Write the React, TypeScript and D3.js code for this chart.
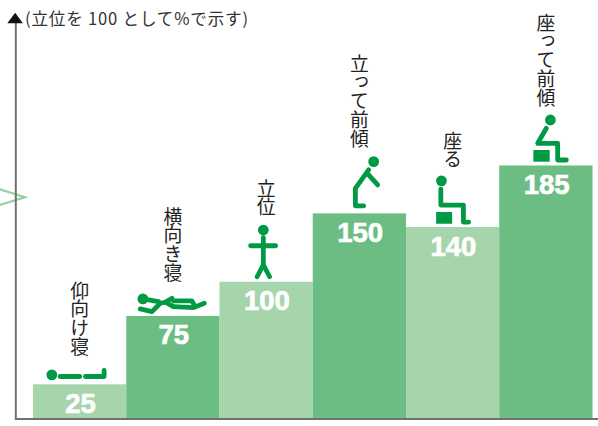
import React from "react";
import * as d3 from "d3";

const categories = ["仰向け寝", "横向き寝", "立位", "立って前傾", "座る", "座って前傾"];
const values = [25, 75, 100, 150, 140, 185];
const barColors = ["#a6d4ab", "#6bbd84", "#a6d4ab", "#6bbd84", "#a6d4ab", "#6bbd84"];
const note = "(立位を 100 として%で示す)";

const W = 598, H = 426;
const GREEN = "#009a44";
const FONT = "'Noto Sans CJK JP', sans-serif";

const x = d3.scaleBand<string>().domain(categories).range([33, 592.5]).padding(0);
const y = d3.scaleLinear().domain([0, 185]).range([418.5, 165.5]);

type Fig = { circle: [number, number, number]; lines: [number, number][][]; rect?: [number, number, number, number] };

// Pictogram shapes, offsets from the bar's top-centre
const figures: Fig[] = [
  { circle: [-27.8, -9.5, 5.4], lines: [[[-19.5, -7.8], [0.2, -7.8]], [[5.8, -7.8], [24.5, -7.8], [24.5, -13.8]]] },
  {
    circle: [-30, -17, 5.4],
    lines: [
      [[-24.3, -16], [-14.3, -14.3]],
      [[-0.9, -17.7], [-7.6, -13.7], [0.7, -9.3]],
      [[-32.6, -7], [-20.9, -4.3], [-12.6, -12.7], [-7.6, -13.7]],
      [[0.7, -15], [19, -15], [22.4, -9.3]],
      [[0.7, -9.3], [20.7, -8.3], [31.4, -12.7]],
    ],
  },
  { circle: [-2.8, -51.7, 5.4], lines: [[[-2.8, -44], [-2.8, -17], [-9, -5]], [[-2.8, -17], [3.5, -5]], [[-15.5, -36], [9.5, -36]]] },
  { circle: [14.3, -51.8, 5.4], lines: [[[9.3, -43.5], [-4, -25], [-4, -7.5], [4.3, -7.5]], [[9.3, -38.5], [18.3, -28.5]]] },
  { circle: [-11.2, -46.2, 5.4], lines: [[[-11.8, -38], [-11.8, -22], [10.8, -22], [10.8, -5], [16, -5]]], rect: [-16.5, -15, 16, 11.7] },
  { circle: [4.5, -45.5, 5.4], lines: [[[0.5, -37.2], [-8.2, -22.2], [11.8, -22.2], [11.8, -5.5], [20.5, -5.5]]], rect: [-12.5, -15.5, 16.3, 11.7] },
];

const labelStarts = [281, 207, 179, 54, 131, 13];
const valueSize = 27.5;

export default function App() {
  return (
    <svg width={W} height={H} viewBox={`0 0 ${W} ${H}`} style={{ position: "absolute", left: 0, top: 0, background: "#fff" }}>
      <polyline points="-4,188 25,197.3 -4,206" fill="none" stroke="#93d0a2" strokeWidth={2.2} />
      {categories.map((c, i) => {
        const bx = x(c)!, bw = x.bandwidth(), top = y(values[i]), cx = bx + bw / 2;
        const f = figures[i];
        return (
          <g key={c}>
            <rect x={bx} y={top} width={bw} height={y(0) - top} fill={barColors[i]} />
            <text x={cx + 0.8} y={top + 28.5} textAnchor="middle" fontFamily="'Liberation Sans', Arial, sans-serif" fontWeight={700} fontSize={valueSize} fill="#fff" stroke="#fff" strokeWidth={0.7}>{values[i]}</text>
            <g transform={`translate(${cx},${top})`}>
              <circle cx={f.circle[0]} cy={f.circle[1]} r={f.circle[2]} fill={GREEN} />
              {f.rect && <rect x={f.rect[0]} y={f.rect[1]} width={f.rect[2]} height={f.rect[3]} fill={GREEN} />}
              {f.lines.map((l, j) => (
                <path key={j} d={d3.line()(l)!} fill="none" stroke={GREEN} strokeWidth={4.8} strokeLinecap="round" strokeLinejoin="round" />
              ))}
            </g>
            <text x={cx} y={labelStarts[i]} fontFamily={FONT} fontSize={18.8} fill="#222" style={{ writingMode: "vertical-rl" }}>{c}</text>
          </g>
        );
      })}
      <line x1={15.8} y1={20} x2={15.8} y2={420} stroke="#707070" strokeWidth={2} />
      <line x1={15} y1={419} x2={598} y2={419} stroke="#707070" strokeWidth={2} />
      <path d="M7.3,23.3 L15.2,12.7 L22.8,23.3 Z" fill="#111" />
      <text x={25} y={25} fontFamily={FONT} fontSize={16.6} fill="#333" textLength={223} lengthAdjust="spacing">{note}</text>
    </svg>
  );
}
